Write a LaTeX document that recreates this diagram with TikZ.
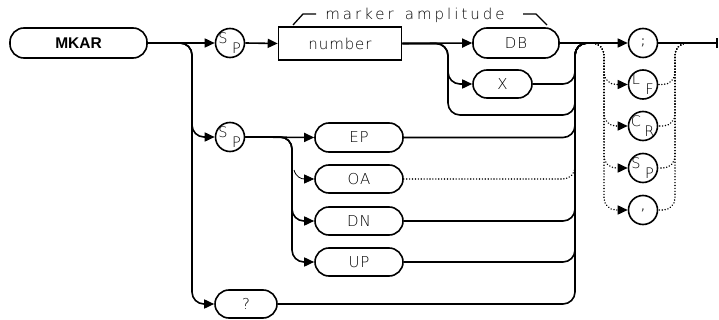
\documentclass[tikz,border=0pt]{standalone}
\usepackage{fontspec}
\setmainfont{Liberation Sans}
\IfFontExistsTF{DejaVu Sans ExtraLight}{%
  \newfontfamily\plotfont[LetterSpace=6]{DejaVu Sans ExtraLight}%
  \newfontfamily\lblfont[LetterSpace=20]{DejaVu Sans ExtraLight}%
  \newfontfamily\subfont{DejaVu Sans ExtraLight}%
}{%
  \newfontfamily\plotfont[LetterSpace=6]{DejaVu Sans}%
  \newfontfamily\lblfont[LetterSpace=20]{DejaVu Sans}%
  \newfontfamily\subfont{DejaVu Sans}%
}
\newfontfamily\punctfont{DejaVu Sans}
\usetikzlibrary{arrows.meta,calc}
\begin{document}
\begin{tikzpicture}[x=1pt,y=-1pt,
  ln/.style={line width=1.6pt},
  arr/.style={ln,-{Triangle[length=10pt,width=9pt]}},
  dot/.style={line width=1.6pt,dash pattern=on 0.01pt off 2.9pt,line cap=round},
  darr/.style={dot,-{Triangle[length=10pt,width=9pt]}},
  kw/.style={draw,line width=1.6pt,rounded corners=14pt,minimum height=29pt,inner sep=0pt,
             font=\plotfont\fontsize{15}{16}\selectfont,text=black},
  circ/.style={draw,circle,line width=1.6pt,minimum size=29pt,inner sep=0pt,
             font=\punctfont\fontsize{13}{14}\selectfont,text=black!75},
  sub/.style={font=\subfont\fontsize{14.5}{15}\selectfont,text=black,inner sep=0pt},
  rc/.style={rounded corners=12pt}
]
\useasboundingbox (0,0) rectangle (719,320);
% nodes
\node[kw,minimum width=137pt,minimum height=30pt,text=black,font=\bfseries\fontsize{15.5}{16}\selectfont] (mkar) at (78.5,43) {MKAR};
\node[circ] (sp1) at (230,43) {};
\node[sub] (sp1s) at ($(sp1)+(-7,-5)$) {S};
\node[sub] (sp1p) at ($(sp1)+(6.5,5)$) {P};
\node[draw,line width=1.6pt,minimum width=123pt,minimum height=33pt,inner sep=0pt,
      font=\plotfont\fontsize{15}{16}\selectfont,text=black] (num) at (340,43.5) {number};
\node[kw,minimum width=86pt,minimum height=30pt] (db) at (516,43) {DB};
\node[kw,minimum width=59pt,minimum height=28pt] (x) at (502.5,84) {X};
\node[font=\lblfont\fontsize{15}{16}\selectfont,text=black] (lbl) at (415,15) {marker\hspace{11pt}amplitude};
\node[circ] (sp2) at (230,137) {};
\node[sub] (sp2s) at ($(sp2)+(-7,-5)$) {S};
\node[sub] (sp2p) at ($(sp2)+(6.5,5)$) {P};
\node[kw,minimum width=88pt] (ep) at (359,137.5) {EP};
\node[kw,minimum width=88pt,minimum height=28pt] (oa) at (359,179) {OA};
\node[kw,minimum width=88pt,minimum height=28pt] (dn) at (359,221) {DN};
\node[kw,minimum width=88pt,minimum height=28pt] (up) at (359,262) {UP};
\node[kw,minimum width=62pt,minimum height=28pt] (q) at (246,304) {?};
\node[circ] (semi) at (643,43) {;};
\node[circ] (lf) at (643,84.5) {};
\node[sub] (lfl) at ($(lf)+(-7,-5)$) {L};
\node[sub] (lff) at ($(lf)+(6.5,5)$) {F};
\node[circ] (cr) at (643,126) {};
\node[sub] (crc) at ($(cr)+(-7,-5)$) {C};
\node[sub] (crr) at ($(cr)+(6.5,5)$) {R};
\node[circ] (spr) at (643,168) {};
\node[sub] (sprs) at ($(spr)+(-7,-5)$) {S};
\node[sub] (sprp) at ($(spr)+(6.5,5)$) {P};
\node[circ] (com) at (643,210) {,};
% coordinates
\coordinate (vl) at (192,0);
\coordinate (v2) at (448,0);
\coordinate (v3) at (292,0);
\coordinate (vc) at (575,0);
\coordinate (vd) at (604,0);
\coordinate (vr) at (675,0);
\coordinate (by) at (0,115);
\coordinate (jn) at (598,43);
\coordinate (jd) at (590,43);
\coordinate (jr) at (692,43);
\coordinate (oaj) at (575,166);
\coordinate (oas) at (294,170);
\coordinate (endpt) at (718,43);
% bracket of label
\draw[line width=1.3pt] (293,25) -- (303,14) -- (316,14);
\draw[line width=1.3pt] (523,14) -- (536,14) -- (547,25);
% connectors
\draw[arr] (mkar.east) -- (sp1.west);
\draw[arr,rc] (mkar.east) -| (vl|-sp2) -- (sp2.west);
\draw[arr,rc] (mkar.east) -| (vl|-q) -- (q.west);
\draw[arr] (sp1.east) -- (num.west);
\draw[arr] (num.east) -- (db.west);
\draw[arr,rc] (num.east) -| (v2|-x) -- (x.west);
\draw[ln,rc] (num.east) -| (v2|-by) -| (vc|-semi) -- (jn);
\draw[ln,rc] (x.east) -| (vc|-semi) -- (jn);
\draw[arr] (sp2.east) -- (ep.west);
\draw[arr,rc] (sp2.east) -| (v3|-dn) -- (dn.west);
\draw[arr,rc] (sp2.east) -| (v3|-up) -- (up.west);
\draw[line width=0.8pt,-{Triangle[length=10pt,width=9pt]}] (oas) .. controls (296,177) and (301,179) .. (oa.west);
\draw[ln,rc] (ep.east) -| (vc|-semi) -- (jn);
\draw[dot,rc] (oa.east) -| (oaj);
\draw[ln,rc] (dn.east) -| (vc|-semi) -- (jn);
\draw[ln,rc] (up.east) -| (vc|-semi) -- (jn);
\draw[ln,rc] (q.east) -| (vc|-semi) -- (jn);
\draw[arr] (db.east) -- (semi.west);
\draw[ln,-{Rectangle[length=2.5pt,width=10pt]}] (semi.east) -- (endpt);
% dotted loop
\draw[darr,rc] (jd) -| (vd|-lf) -- (lf.west);
\draw[darr,rc] (jd) -| (vd|-cr) -- (cr.west);
\draw[darr,rc] (jd) -| (vd|-spr) -- (spr.west);
\draw[darr,rc] (jd) -| (vd|-com) -- (com.west);
\draw[dot,rc] (jr) -| (vr|-lf) -- (lf.east);
\draw[dot,rc] (jr) -| (vr|-cr) -- (cr.east);
\draw[dot,rc] (jr) -| (vr|-spr) -- (spr.east);
\draw[dot,rc] (jr) -| (vr|-com) -- (com.east);
\end{tikzpicture}
\end{document}
